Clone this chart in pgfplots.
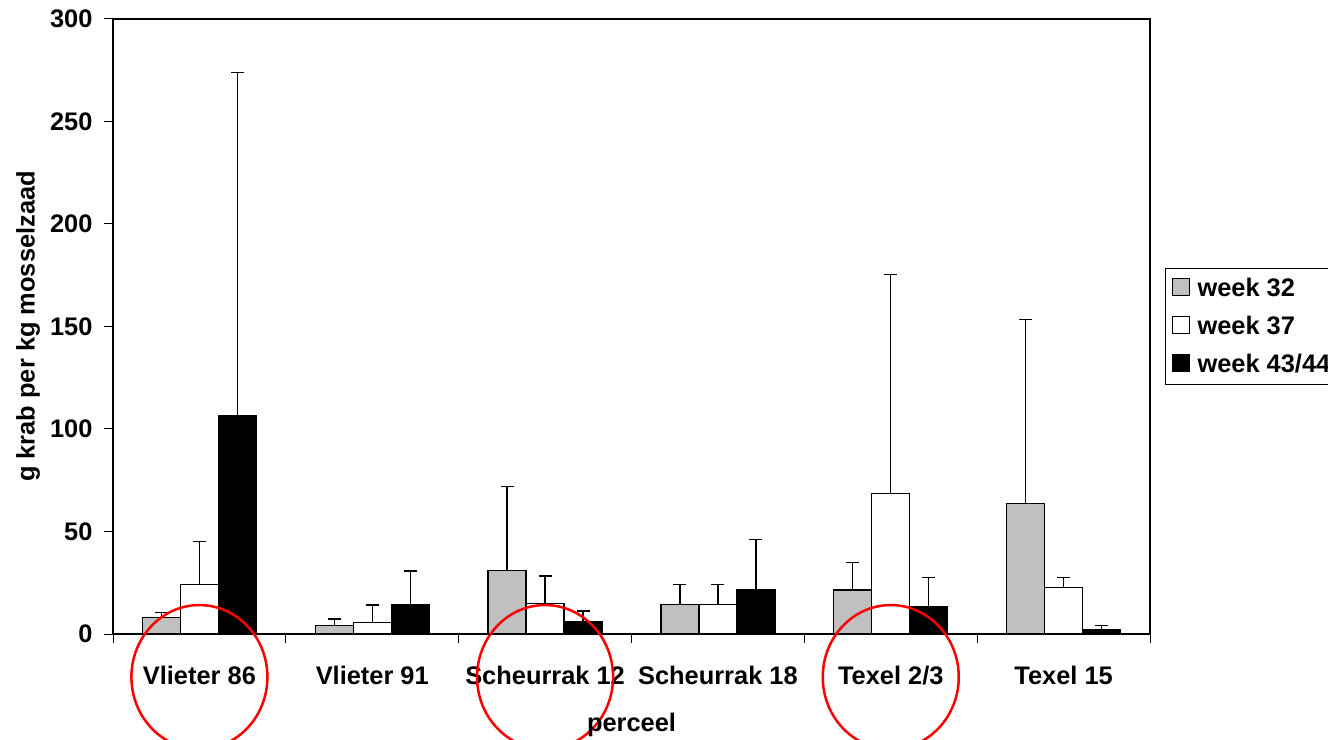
\documentclass[border=0pt]{standalone}
\usepackage{fontspec}
\setmainfont{Liberation Sans}
\usepackage{pgfplots}
\pgfplotsset{compat=1.18}
\definecolor{barGray}{HTML}{C0C0C0}
\pgfplotsset{sqleg/.style={legend image code/.code={\draw[##1, line width=1bp] (0bp,-7bp) rectangle (17bp,10bp); \path (22bp,0bp);}}}
\begin{document}
\begin{tikzpicture}[x=1bp,y=1bp]
\path[use as bounding box] (0,0) rectangle (1328,739);
\clip (0,0) rectangle (1328,739);
\begin{axis}[
  at={(113bp,105bp)}, anchor=south west,
  scale only axis, width=1037bp, height=615bp,
  clip=false,
  xmin=-0.5, xmax=5.5, ymin=0, ymax=300,
  ybar=0pt, bar width=38bp,
  xtick={0,...,5},
  xticklabels={Vlieter 86, Vlieter 91, Scheurrak 12, Scheurrak 18, Texel 2/3, Texel 15},
  minor xtick={-0.5,0.5,...,5.5},
  major x tick style={draw=none},
  ytick={0,50,...,300},
  tick pos=left,
  tick align=outside,
  major tick length=9bp,
  minor tick length=9bp,
  every tick/.style={black, line width=1bp},
  axis line style={line width=1.4bp, black},
  /pgf/number format/assume math mode=true,
  tick label style={font=\fontsize{25.5}{30}\selectfont\bfseries},
  xticklabel style={yshift=-20bp},
  yticklabel style={xshift=-8bp},
  xlabel={perceel}, ylabel={g krab per kg mosselzaad},
  every axis x label/.style={at={(rel axis cs:0.5,0)}, yshift=-91bp, anchor=center, font=\fontsize{25.5}{30}\selectfont\bfseries},
  every axis y label/.style={at={(rel axis cs:0,0.5)}, xshift=-85bp, rotate=90, anchor=center, font=\fontsize{25.5}{30}\selectfont\bfseries},
  legend style={at={(rel axis cs:1.0145,0.595)}, anchor=north west, draw=black, line width=0.8bp,
    font=\fontsize{25.5}{30}\selectfont\bfseries, row sep=14bp, inner xsep=7bp, inner ysep=8bp},
  legend cell align=left,
  error bars/y dir=plus, error bars/y explicit,
  error bars/error bar style={line width=1.3bp, black},
  error bars/error mark options={rotate=90, mark size=6.5bp, line width=1.3bp, black},
]
\addplot[fill=barGray, draw=black, line width=1.2bp, sqleg] coordinates {
 (0,8.2) += (0,2.4) (1,4.1) += (0,3.2) (2,30.8) += (0,41.0)
 (3,14.2) += (0,9.9) (4,21.5) += (0,13.3) (5,63.5) += (0,90.0)};
\addplot[fill=white, draw=black, line width=1.2bp, sqleg] coordinates {
 (0,24.1) += (0,20.9) (1,5.7) += (0,8.5) (2,14.8) += (0,13.5)
 (3,14.2) += (0,9.9) (4,68.6) += (0,106.9) (5,22.5) += (0,5.2)};
\addplot[fill=black, draw=black, line width=1.2bp, sqleg] coordinates {
 (0,106.7) += (0,167.1) (1,14.2) += (0,16.6) (2,6.0) += (0,5.2)
 (3,21.7) += (0,24.3) (4,13.2) += (0,14.3) (5,2.3) += (0,1.8)};
\legend{week 32, week 37, week 43/44}
\draw[red, line width=2.5bp] (axis cs:0,-21) ellipse [x radius=68bp, y radius=72bp];
\draw[red, line width=2.5bp] (axis cs:2,-21) ellipse [x radius=68bp, y radius=72bp];
\draw[red, line width=2.5bp] (axis cs:4,-21) ellipse [x radius=68bp, y radius=72bp];
\end{axis}
\end{tikzpicture}
\end{document}
